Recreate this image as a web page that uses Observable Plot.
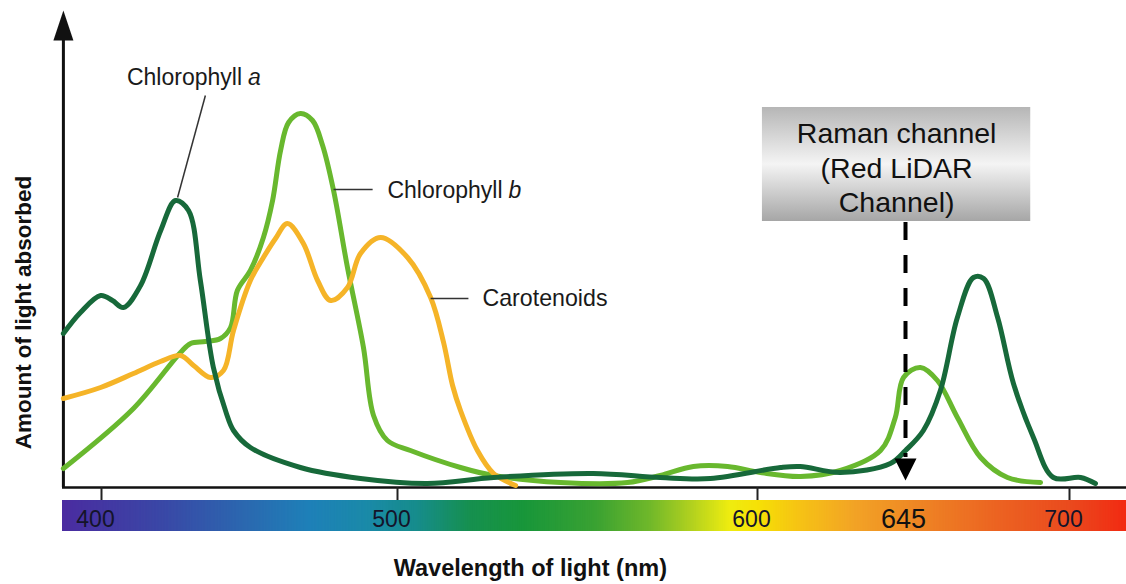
<!DOCTYPE html>
<html><head><meta charset="utf-8">
<script src="https://cdn.jsdelivr.net/npm/d3@7"></script>
<script src="https://cdn.jsdelivr.net/npm/@observablehq/plot@0.6"></script>
<style>html,body{margin:0;padding:0;background:#fff;}</style>
</head><body><div id="chart"></div>
<script>
// ---- data (wavelength in nm, absorbance in arbitrary units) ----
const chlA_wl  = [387.3, 393, 399.7, 403.7, 407.4, 413.2, 420, 425, 429.4, 433.4, 437.8, 442.2, 444.6, 450.3, 467.2, 487.5, 508.3, 526.7, 554.4, 573, 586.9, 607, 613, 625.2, 640.4, 645, 651, 656.7, 662.4, 667.8, 671.2, 675.9, 681.2, 687.9, 694.6, 703.5, 708.2];
const chlA_abs = [38.5, 43.75, 48, 46.75, 45, 50.5, 64.25, 71.75, 69.25, 51.75, 30, 18.5, 14.25, 10, 5, 2.25, 1, 2.5, 3.5, 2.5, 2.25, 5, 5.25, 3.75, 6, 9.25, 14.25, 24.25, 42.5, 52.5, 52.25, 42.5, 26, 12.5, 2.5, 2.5, 1];
const chlB_wl  = [387.3, 410.8, 426.7, 430.1, 435.1, 440.2, 443.6, 445.9, 450.3, 454.7, 457.8, 460.5, 463.2, 467.2, 471.3, 474.7, 478.4, 483.1, 488.5, 491.9, 496.6, 503.6, 517.5, 526.7, 545.3, 563.9, 573, 582.2, 591.7, 600.9, 613.1, 625.2, 637.4, 641.9, 644.4, 650, 655.7, 662.4, 670.2, 679.2, 690.3];
const chlB_abs = [4.75, 19.75, 33.75, 36, 36.5, 37.25, 40, 49.25, 54.25, 62.5, 71.75, 84.25, 91.25, 93.5, 91.75, 85.5, 74.25, 55, 35, 18, 11.75, 9.25, 5, 3, 1.25, 1.25, 3, 5.25, 5.25, 3.75, 2.75, 4.25, 9.25, 17.5, 27.5, 30, 26.75, 17.5, 7.5, 2.5, 1.25];
const car_wl   = [387.3, 399.7, 410.8, 419.9, 426.7, 431.1, 436.8, 441.2, 444.6, 450.3, 454.7, 458.8, 462.8, 468.2, 473, 477.4, 483.1, 487.5, 494.3, 502.8, 509.2, 512.8, 515.3, 517.5, 522.2, 526.7, 532.8];
const car_abs  = [22.25, 25, 28.5, 31.5, 33, 30.5, 27.5, 29.25, 39.25, 51.75, 57.5, 62.25, 66, 61, 51.75, 46.75, 50, 58.5, 62.5, 57.5, 47.5, 36.25, 25.5, 19.25, 9.25, 3.5, 0.5];

const tickValues = [400, 500, 600, 700];
const ramanWl = [645];
const ramanLabel = "Raman channel\n(Red LiDAR\nChannel)";

// visible spectrum colour stops
const specStops  = [387, 420, 450, 470, 490, 505, 520, 535, 555, 570, 582, 592, 600, 612, 630, 650, 675, 700, 718];
const specColors = ["#4a2ca0", "#3a47a6", "#2a6ab0", "#1e80b8", "#1a8aa8", "#168c8c", "#16904f", "#18963a", "#3aa232", "#70b82a", "#b4d21e", "#eeec10", "#f6e006", "#f6c414", "#f2a226", "#ee8424", "#ec6422", "#ea4a1e", "#f22a12"];

// anchors of the (non-uniform) original wavelength axis
const xAnchors = [387, 400, 500, 600, 645, 700, 718];
const xPixels  = [62, 101, 397, 757, 905, 1069, 1126];
const wlAxis = d3.scaleLinear().domain(xAnchors).range(xPixels);

const series = [
  {name: "Chlorophyll b", wl: chlB_wl, abs: chlB_abs, color: "#68b82e"},
  {name: "Carotenoids",   wl: car_wl,  abs: car_abs,  color: "#f5b428"},
  {name: "Chlorophyll a", wl: chlA_wl, abs: chlA_abs, color: "#17693a"}
];
const spectrum = d3.range(387, 718, 0.5);

const upArrow = {draw(ctx){ ctx.moveTo(0,-15); ctx.lineTo(10,15); ctx.lineTo(-10,15); ctx.closePath(); }};
const downArrow = {draw(ctx){ ctx.moveTo(-11,-11); ctx.lineTo(11,-11); ctx.lineTo(0,11); ctx.closePath(); }};

const font = "'Liberation Sans', Arial, Helvetica, sans-serif";

const marks = [
  // spectrum bar
  Plot.rect(spectrum, {x1: d => d, x2: d => d + 0.8, y1: -3.25, y2: -11, fill: d => d}),
  // axes
  Plot.ruleY([0], {stroke: "#111", strokeWidth: 2.5}),
  Plot.ruleX([387.3], {y1: 0, y2: 112, stroke: "#111", strokeWidth: 3}),
  Plot.dot([0], {x: () => 387.3, y: () => 115.5, symbol: upArrow, fill: "#111", stroke: "none", r: 10}),
  Plot.ruleX(tickValues, {y1: 0, y2: -3.25, stroke: "#222", strokeWidth: 2}),
  Plot.text(tickValues, {x: d => d, y: -8, text: d => String(d), dx: -6, fontSize: 23, fill: "#14142a", fontFamily: font}),
  Plot.text(ramanWl, {x: d => d, y: -8, text: d => String(d), dx: -2, fontSize: 27, fill: "#111", fontFamily: font}),
  // curves
  ...series.map(s => Plot.line(s.wl.map((w, i) => ({w, a: s.abs[i]})), {x: "w", y: "a", stroke: s.color, strokeWidth: 5, curve: "catmull-rom", strokeLinecap: "round"})),
  // labels and leaders
  Plot.link([0], {x1: () => 435.1, y1: () => 98, x2: () => 425.7, y2: () => 72.5, stroke: "#333", strokeWidth: 1.5}),
  Plot.link([0], {x1: () => 478.4, y1: () => 74.5, x2: () => 491.6, y2: () => 74.5, stroke: "#333", strokeWidth: 1.5}),
  Plot.link([0], {x1: () => 509.2, y1: () => 47.25, x2: () => 519.7, y2: () => 47.25, stroke: "#333", strokeWidth: 1.5}),
  Plot.text(["Chlorophyll"], {x: () => 408.6, y: () => 102.5, textAnchor: "start", fontSize: 23, fill: "#1a1a1a", fontFamily: font}),
  Plot.text(["a"], {x: () => 408.6, y: () => 102.5, dx: 121, textAnchor: "start", fontSize: 23, fontStyle: "italic", fill: "#1a1a1a", fontFamily: font}),
  Plot.text(["Chlorophyll"], {x: () => 496.6, y: () => 74.25, textAnchor: "start", fontSize: 23, fill: "#1a1a1a", fontFamily: font}),
  Plot.text(["b"], {x: () => 496.6, y: () => 74.25, dx: 121, textAnchor: "start", fontSize: 23, fontStyle: "italic", fill: "#1a1a1a", fontFamily: font}),
  Plot.text(["Carotenoids"], {x: () => 523.6, y: () => 47.25, textAnchor: "start", fontSize: 23.2, fill: "#1a1a1a", fontFamily: font}),
  // Raman channel annotation
  Plot.rect([0], {x1: () => 601.5, x2: () => 687, y1: () => 66.5, y2: () => 95, fill: "url(#ramanGrad)"}),
  Plot.text([ramanLabel], {x: () => 642.3, y: () => 80.25, text: d => d, fontSize: 28.5, lineHeight: 1.21, fill: "#111", fontFamily: font}),
  Plot.ruleX(ramanWl, {y1: 66.25, y2: 7.5, stroke: "#000", strokeWidth: 4, strokeDasharray: "18,15"}),
  Plot.dot(ramanWl, {x: d => d, y: () => 4.5, symbol: downArrow, fill: "#000", stroke: "none", r: 10}),
  // axis titles
  Plot.text(["Amount of light absorbed"], {x: () => 374, y: () => 43.75, rotate: -90, fontSize: 22.5, fontWeight: "bold", fill: "#111", fontFamily: font}),
  Plot.text(["Wavelength of light (nm)"], {x: () => 536.9, y: () => -20.25, fontSize: 23.5, fontWeight: "bold", fill: "#111", fontFamily: font})
];

const chart = Plot.plot({
  width: 1126,
  height: 584,
  marginLeft: 62, marginRight: 0, marginTop: 0, marginBottom: 97,
  x: {type: "linear", transform: wlAxis, domain: [62, 1126], range: [62, 1126], axis: null},
  y: {domain: [0, 100], range: [487, 87], axis: null},
  color: {type: "linear", domain: specStops, range: specColors, interpolate: "rgb"},
  style: {background: "#fff", fontFamily: font, overflow: "visible"},
  marks
});

// gradient for the annotation box
const defs = d3.select(chart).insert("defs", ":first-child");
const g = defs.append("linearGradient").attr("id", "ramanGrad").attr("x1", 0).attr("y1", 0).attr("x2", 0).attr("y2", 1);
[[0, "#b6b6b6"], [0.5, "#f4f4f4"], [1, "#a6a6a6"]].forEach(([o, c]) => g.append("stop").attr("offset", o).attr("stop-color", c));

document.getElementById("chart").append(chart);
</script>
</body></html>
